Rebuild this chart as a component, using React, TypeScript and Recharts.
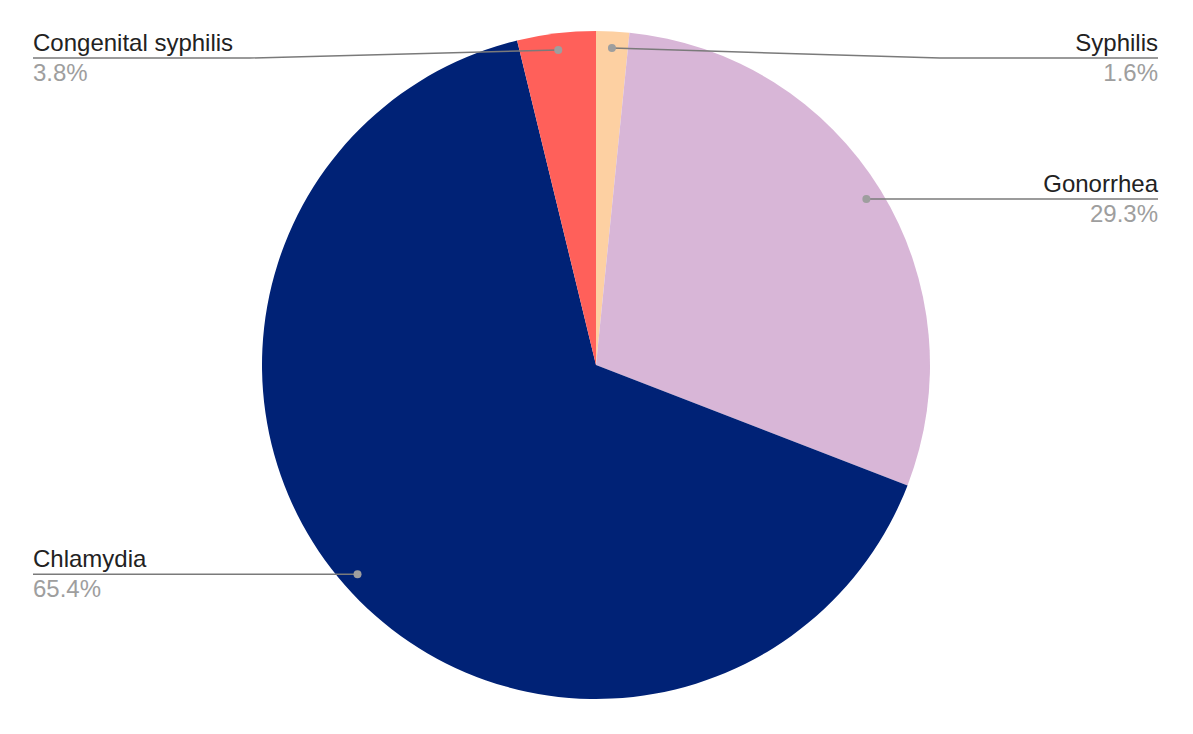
import React from "react";
import { PieChart, Pie, Cell } from "recharts";

const diseases = ["Syphilis", "Gonorrhea", "Chlamydia", "Congenital syphilis"];
const shares = [1.6, 29.3, 65.4, 3.8];
const sliceColors = ["#FDD0A2", "#D8B6D7", "#002276", "#FF605A"];

const data = diseases.map((name, i) => ({ name, value: shares[i] }));

const WIDTH = 1193;
const HEIGHT = 734;
const RADIAN = Math.PI / 180;

const renderLabel = (props: any) => {
    const { cx, cy, midAngle, outerRadius, name, value } = props;
    const r = outerRadius * 0.95;
    const dx = cx + r * Math.cos(midAngle * RADIAN);
    const dy = cy - r * Math.sin(midAngle * RADIAN);
    const right = dx >= cx;
    const ly = Math.max(dy, 58);
    const edgeX = right ? WIDTH - 35 : 33;
    const kinkX = right ? cx + outerRadius + 10 : cx - outerRadius - 12;
    const points = ly === dy
        ? `${dx},${dy} ${edgeX},${ly}`
        : `${dx},${dy} ${kinkX},${ly} ${edgeX},${ly}`;
    const anchor = right ? "end" : "start";
    return (
        <g>
            <polyline points={points} fill="none" stroke="#7a7a7a" strokeWidth={1.5} />
            <circle cx={dx} cy={dy} r={4} fill="#9e9e9e" />
            <text x={edgeX} y={ly - 7} textAnchor={anchor} fontSize={24} fill="#222222"
                fontFamily="'Liberation Sans', Arial, sans-serif">
                {name}
            </text>
            <text x={edgeX} y={ly + 23} textAnchor={anchor} fontSize={24} fill="#9e9e9e"
                fontFamily="'Liberation Sans', Arial, sans-serif">
                {`${Number(value).toFixed(1)}%`}
            </text>
        </g>
    );
};

export default function App() {
    return (
        <div style={{ position: "absolute", left: 0, top: 0, width: WIDTH, height: HEIGHT, background: "#fff" }}>
            <PieChart width={WIDTH} height={HEIGHT} margin={{ top: 0, right: 0, bottom: 0, left: 0 }}>
                <Pie
                    data={data}
                    dataKey="value"
                    nameKey="name"
                    cx={596}
                    cy={365}
                    outerRadius={334}
                    startAngle={90}
                    endAngle={-270}
                    stroke="none"
                    label={renderLabel}
                    labelLine={false}
                    isAnimationActive={false}
                >
                    {data.map((d, i) => (
                        <Cell key={d.name} fill={sliceColors[i]} />
                    ))}
                </Pie>
            </PieChart>
        </div>
    );
}
